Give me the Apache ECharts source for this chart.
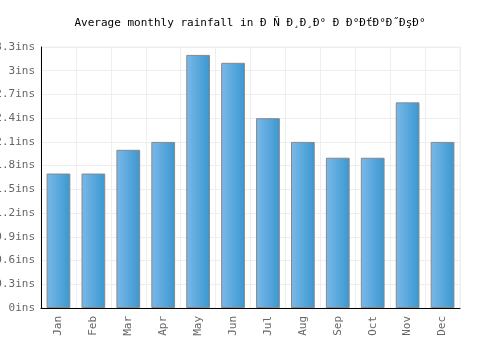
<!DOCTYPE html>
<html>
<head>
<meta charset="utf-8">
<script src="https://cdn.jsdelivr.net/npm/echarts@6/dist/echarts.min.js"></script>
<style>
  html, body { margin: 0; padding: 0; background: #fff; }
  #chart { width: 500px; height: 350px; }
</style>
</head>
<body>
<div id="chart"></div>
<script>
var _title = 'Average monthly rainfall in Ð Ñ Ð¸Ð¸Ð° Ð Ð°ÐťÐ°Ð˝ÐşÐ°';
var _months = ['Jan', 'Feb', 'Mar', 'Apr', 'May', 'Jun', 'Jul', 'Aug', 'Sep', 'Oct', 'Nov', 'Dec'];
var _rainfall = [1.7, 1.7, 2.0, 2.1, 3.2, 3.1, 2.4, 2.1, 1.9, 1.9, 2.6, 2.1];
var _unit = 'ins';

var mono = '"DejaVu Sans Mono", "Liberation Mono", monospace';

var myChart = echarts.init(document.getElementById('chart'));

var option = {
    backgroundColor: '#fff',
    animation: false,
    title: {
        text: _title,
        left: 'center',
        top: 13,
        textStyle: {
            fontFamily: mono,
            fontSize: 11,
            fontWeight: 'normal',
            color: '#000'
        }
    },
    grid: {
        left: 41,
        right: 40,
        top: 47,
        bottom: 42,
        containLabel: false,
        outerBoundsMode: 'none',
        show: true,
        borderColor: '#eee',
        borderWidth: 1
    },
    xAxis: {
        type: 'category',
        data: _months,
        axisLine: { lineStyle: { color: '#000', width: 1 } },
        axisTick: { show: false },
        splitLine: { show: true, lineStyle: { color: '#eee' } },
        axisLabel: {
            rotate: 90,
            fontFamily: mono,
            fontSize: 11,
            color: '#666',
            margin: 8
        }
    },
    yAxis: {
        type: 'value',
        min: 0,
        max: 3.3,
        interval: 0.3,
        axisLine: { show: true, lineStyle: { color: '#000', width: 1 } },
        axisTick: { show: false },
        splitLine: { lineStyle: { color: '#eee' } },
        axisLabel: {
            fontFamily: mono,
            fontSize: 11,
            color: '#666',
            margin: 6,
            formatter: function (v) {
                return parseFloat(v.toFixed(1)) + _unit;
            }
        }
    },
    series: [{
        type: 'bar',
        data: _rainfall,
        barWidth: '68%',
        itemStyle: {
            color: new echarts.graphic.LinearGradient(0, 0, 1, 0, [
                { offset: 0, color: '#7ab9e9' },
                { offset: 1, color: '#3a97d0' }
            ]),
            borderColor: '#888',
            borderWidth: 1
        }
    }]
};

myChart.setOption(option);
</script>
</body>
</html>
